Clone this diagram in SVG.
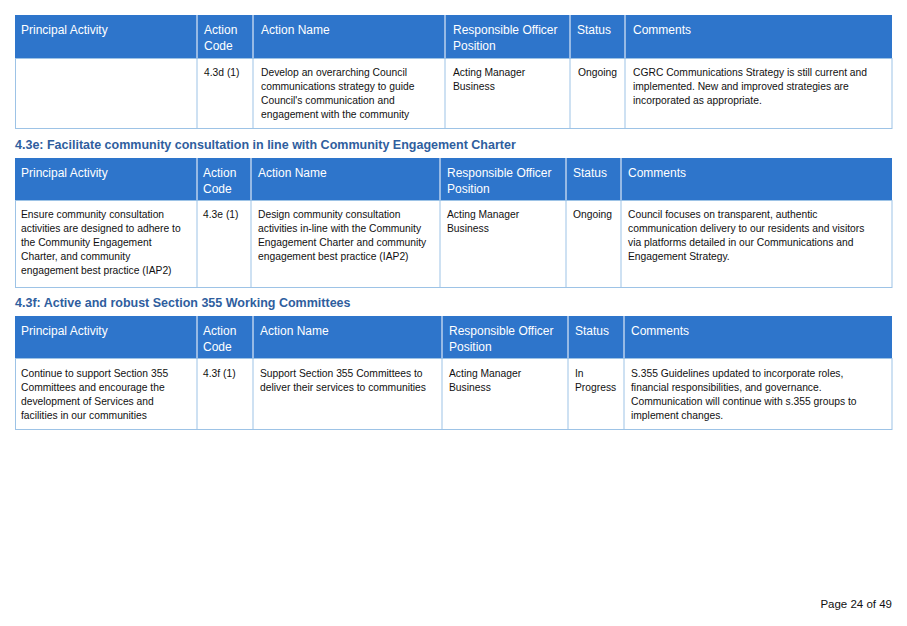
<svg xmlns="http://www.w3.org/2000/svg" width="907" height="626" viewBox="0 0 907 626">
<style>
.hd{fill:#2E75CB}
.bd{fill:#fff;stroke:#9DC3E6;stroke-width:1}
.ln{stroke:#9DC3E6;stroke-width:1}
.hl{stroke:#fff;stroke-width:1}
.ht{font-family:"Liberation Sans",Arial,sans-serif;font-size:12px;fill:#fff}
.t{font-family:"Liberation Sans",Arial,sans-serif;font-size:10.3px;fill:#111}
.h2{font-family:"Liberation Sans",Arial,sans-serif;font-size:12.5px;font-weight:bold;fill:#2F5E9E}
</style>
<rect width="907" height="626" fill="#fff"/>
<g id="table1">
<rect class="hd" x="15" y="15" width="877" height="43"/>
<rect class="bd" x="15.5" y="58.5" width="876.5" height="70"/>
<path class="hl" d="M197 15V58M253 15V58M445 15V58M570 15V58M625 15V58"/>
<path class="ln" d="M197 58V128M253 58V128M445 58V128M570 58V128M625 58V128"/>
<text class="ht" x="21" y="34">Principal Activity</text>
<text class="ht" x="204" y="34">Action</text><text class="ht" x="204" y="50">Code</text>
<text class="ht" x="261" y="34">Action Name</text>
<text class="ht" x="453" y="34">Responsible Officer</text><text class="ht" x="453" y="50">Position</text>
<text class="ht" x="577" y="34">Status</text>
<text class="ht" x="633" y="34">Comments</text>
<text class="t" x="204" y="76">4.3d (1)</text>
<text class="t" x="261" y="76">Develop an overarching Council</text>
<text class="t" x="261" y="90">communications strategy to guide</text>
<text class="t" x="261" y="104">Council's communication and</text>
<text class="t" x="261" y="118">engagement with the community</text>
<text class="t" x="453" y="76">Acting Manager</text><text class="t" x="453" y="90">Business</text>
<text class="t" x="578" y="76">Ongoing</text>
<text class="t" x="633" y="76">CGRC Communications Strategy is still current and</text>
<text class="t" x="633" y="90">implemented. New and improved strategies are</text>
<text class="t" x="633" y="104">incorporated as appropriate.</text>
</g>
<text class="h2" x="15" y="149">4.3e: Facilitate community consultation in line with Community Engagement Charter</text>
<g id="table2">
<rect class="hd" x="15" y="158" width="877" height="42"/>
<rect class="bd" x="15.5" y="200.5" width="876.5" height="87"/>
<path class="hl" d="M197 158V200M251 158V200M440 158V200M566 158V200M621 158V200"/>
<path class="ln" d="M197 200V287M251 200V287M440 200V287M566 200V287M621 200V287"/>
<text class="ht" x="21" y="177">Principal Activity</text>
<text class="ht" x="203" y="177">Action</text><text class="ht" x="203" y="193">Code</text>
<text class="ht" x="258" y="177">Action Name</text>
<text class="ht" x="447" y="177">Responsible Officer</text><text class="ht" x="447" y="193">Position</text>
<text class="ht" x="573" y="177">Status</text>
<text class="ht" x="628" y="177">Comments</text>
<text class="t" x="21" y="218">Ensure community consultation</text>
<text class="t" x="21" y="232">activities are designed to adhere to</text>
<text class="t" x="21" y="246">the Community Engagement</text>
<text class="t" x="21" y="260">Charter, and community</text>
<text class="t" x="21" y="274">engagement best practice (IAP2)</text>
<text class="t" x="203" y="218">4.3e (1)</text>
<text class="t" x="258" y="218">Design community consultation</text>
<text class="t" x="258" y="232">activities in-line with the Community</text>
<text class="t" x="258" y="246">Engagement Charter and community</text>
<text class="t" x="258" y="260">engagement best practice (IAP2)</text>
<text class="t" x="447" y="218">Acting Manager</text><text class="t" x="447" y="232">Business</text>
<text class="t" x="573" y="218">Ongoing</text>
<text class="t" x="628" y="218">Council focuses on transparent, authentic</text>
<text class="t" x="628" y="232">communication delivery to our residents and visitors</text>
<text class="t" x="628" y="246">via platforms detailed in our Communications and</text>
<text class="t" x="628" y="260">Engagement Strategy.</text>
</g>
<text class="h2" x="15" y="307">4.3f: Active and robust Section 355 Working Committees</text>
<g id="table3">
<rect class="hd" x="15" y="316" width="877" height="42"/>
<rect class="bd" x="15.5" y="358.5" width="876.5" height="71"/>
<path class="hl" d="M197 316V358M253 316V358M442 316V358M568 316V358M624 316V358"/>
<path class="ln" d="M197 358V429M253 358V429M442 358V429M568 358V429M624 358V429"/>
<text class="ht" x="21" y="335">Principal Activity</text>
<text class="ht" x="203" y="335">Action</text><text class="ht" x="203" y="351">Code</text>
<text class="ht" x="260" y="335">Action Name</text>
<text class="ht" x="449" y="335">Responsible Officer</text><text class="ht" x="449" y="351">Position</text>
<text class="ht" x="575" y="335">Status</text>
<text class="ht" x="631" y="335">Comments</text>
<text class="t" x="21" y="377">Continue to support Section 355</text>
<text class="t" x="21" y="391">Committees and encourage the</text>
<text class="t" x="21" y="405">development of Services and</text>
<text class="t" x="21" y="419">facilities in our communities</text>
<text class="t" x="203" y="377">4.3f (1)</text>
<text class="t" x="260" y="377">Support Section 355 Committees to</text>
<text class="t" x="260" y="391">deliver their services to communities</text>
<text class="t" x="449" y="377">Acting Manager</text><text class="t" x="449" y="391">Business</text>
<text class="t" x="575" y="377">In</text><text class="t" x="575" y="391">Progress</text>
<text class="t" x="631" y="377">S.355 Guidelines updated to incorporate roles,</text>
<text class="t" x="631" y="391">financial responsibilities, and governance.</text>
<text class="t" x="631" y="405">Communication will continue with s.355 groups to</text>
<text class="t" x="631" y="419">implement changes.</text>
</g>
<text class="t" x="892" y="608" text-anchor="end" style="font-size:11.5px">Page 24 of 49</text>
</svg>
